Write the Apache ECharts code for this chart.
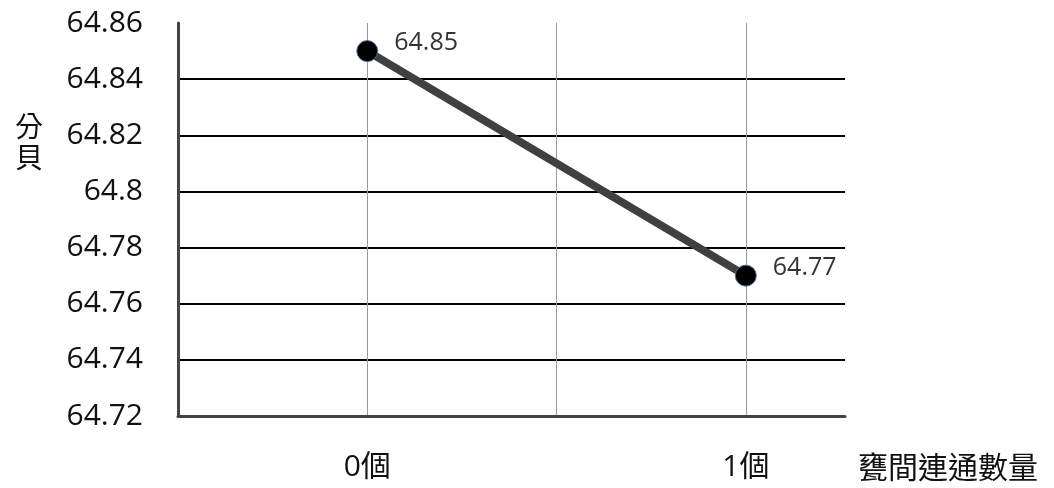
<!DOCTYPE html>
<html>
<head>
<meta charset="utf-8">
<script src="https://cdn.jsdelivr.net/npm/echarts@6/dist/echarts.min.js"></script>
<style>html,body{margin:0;padding:0;background:#fff}#c{width:1054px;height:488px}</style>
</head>
<body>
<div id="c"></div>
<script>
var categories = ['0個', '1個'];
var values = [64.85, 64.77];
var yMin = 64.72, yMax = 64.86, yStep = 0.02;
var xName = '甕間連通數量';
var yName = '分貝';

var chart = echarts.init(document.getElementById('c'), null, {renderer: 'canvas'});
var seriesData = values.map(function (v, i) { return [i, v]; });

chart.setOption({
  animation: false,
  backgroundColor: '#fff',
  title: {
    text: yName.split('').join('\n'),
    left: 10, top: 106,
    textStyle: {fontFamily: 'Noto Sans CJK TC', fontWeight: 'normal', fontSize: 28, lineHeight: 31, color: '#111'}
  },
  grid: {left: 178, right: 209, top: 23, bottom: 72, containLabel: false},
  xAxis: {
    type: 'value', min: -0.5, max: 1.262, interval: 0.5,
    name: xName, nameLocation: 'end', nameGap: 13,
    nameTextStyle: {fontFamily: 'Noto Sans CJK TC', fontSize: 30, color: '#111', verticalAlign: 'top', align: 'left', padding: [36, 0, 0, 0]},
    axisLine: {show: true, onZero: false, lineStyle: {color: '#444', width: 3}},
    axisTick: {show: false},
    axisLabel: {
      margin: 36, fontSize: 30, color: '#111', fontFamily: 'Open Sans, Noto Sans CJK TC',
      showMaxLabel: false,
      formatter: function (v) { return (Math.abs(v - Math.round(v)) < 1e-9 && categories[Math.round(v)] !== undefined) ? categories[Math.round(v)] : ''; }
    },
    splitLine: {show: true, showMinLine: false, showMaxLine: false, lineStyle: {color: '#9a9a9a', width: 1}}
  },
  yAxis: {
    type: 'value', min: yMin, max: yMax, interval: yStep,
    axisLine: {show: true, onZero: false, lineStyle: {color: '#444', width: 3}},
    axisTick: {show: false},
    axisLabel: {margin: 35, fontSize: 30, color: '#111', fontFamily: 'Open Sans'},
    splitLine: {show: true, showMinLine: false, showMaxLine: false, lineStyle: {color: '#000', width: 2}}
  },
  series: [{
    type: 'line',
    data: seriesData,
    lineStyle: {color: '#404040', width: 8},
    symbol: 'circle', symbolSize: 21,
    itemStyle: {color: '#000', borderColor: '#4a6f9a', borderWidth: 1},
    label: {
      show: true, position: 'right', distance: 16, offset: [0, -8],
      fontSize: 25, color: '#333', fontFamily: 'Open Sans',
      formatter: function (p) { return p.value[1].toFixed(2); }
    },
    z: 5
  }]
});
</script>
</body>
</html>
